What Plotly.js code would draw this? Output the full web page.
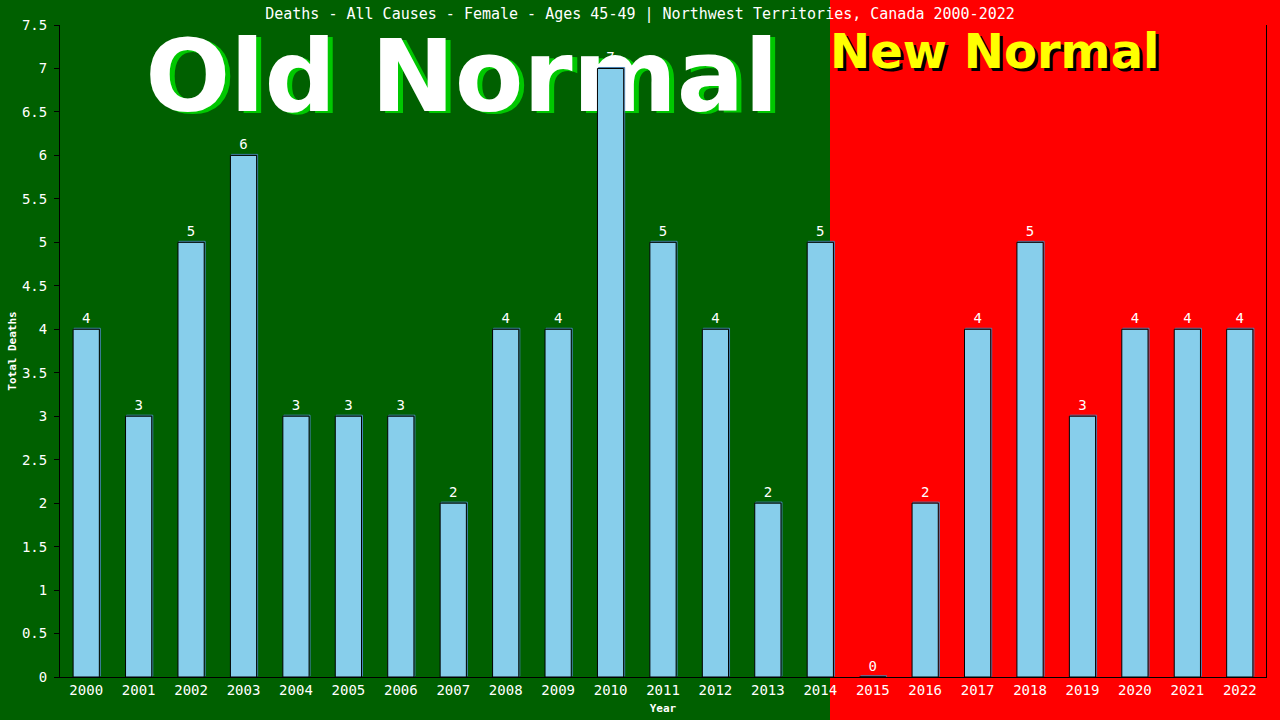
<!DOCTYPE html>
<html>
<head>
<meta charset="utf-8">
<script src="https://cdn.plot.ly/plotly-3.0.1.min.js"></script>
<style>
  html, body { margin: 0; padding: 0; background: #ff0000; }
  #chart { width: 1280px; height: 720px; }
</style>
</head>
<body>
<div id="chart"></div>
<script>
// Female deaths, ages 45-49, Northwest Territories
const years = ['2000','2001','2002','2003','2004','2005','2006','2007','2008','2009','2010',
               '2011','2012','2013','2014','2015','2016','2017','2018','2019','2020','2021','2022'];
const deaths = [4, 3, 5, 6, 3, 3, 3, 2, 4, 4, 7, 5, 4, 2, 5, 0, 2, 4, 5, 3, 4, 4, 4];
const yTickVals = [0, 0.5, 1, 1.5, 2, 2.5, 3, 3.5, 4, 4.5, 5, 5.5, 6, 6.5, 7, 7.5];
const yTickText = ['0','0.5','1','1.5','2','2.5','3','3.5','4','4.5','5','5.5','6','6.5','7','7.5'];

const titleText = 'Deaths - All Causes - Female - Ages 45-49 | Northwest Territories, Canada 2000-2022';
const eraLeft = 'Old Normal';
const eraRight = 'New Normal';

const MONO = '"DejaVu Sans Mono", "Liberation Mono", monospace';
const SANS_BOLD = '"DejaVu Sans", Verdana, sans-serif';

// Era headings live on the base axes (0..1 in both directions) so the bars,
// which sit on the overlaying axes, are painted on top of them.
const eraOld = {
  type: 'scatter', mode: 'text', xaxis: 'x', yaxis: 'y',
  x: [0.3333], y: [0.907], text: [eraLeft],
  textposition: 'middle center',
  textfont: { family: SANS_BOLD, size: 100, color: '#ffffff', weight: 700,
              shadow: '5px 2px 0px #00c800' },
  hoverinfo: 'skip', showlegend: false, cliponaxis: false
};
const eraNew = {
  type: 'scatter', mode: 'text', xaxis: 'x', yaxis: 'y',
  x: [0.6385], y: [0.953], text: [eraRight],
  textposition: 'middle right',
  textfont: { family: SANS_BOLD, size: 48, color: '#ffff00', weight: 700,
              shadow: '3px 3px 0px #000000' },
  hoverinfo: 'skip', showlegend: false, cliponaxis: false
};

// thin steel-blue outline sitting one pixel up and right of each bar
const barShadow = {
  type: 'bar', xaxis: 'x2', yaxis: 'y2',
  x: years, y: deaths, base: 0.0115,
  width: 0.5, offset: -0.231,
  marker: { color: 'rgba(0,0,0,0)', line: { color: '#4682b4', width: 1 } },
  hoverinfo: 'skip', showlegend: false
};

const bars = {
  type: 'bar', xaxis: 'x2', yaxis: 'y2',
  x: years, y: deaths,
  width: 0.5, offset: -0.25,
  marker: { color: '#87ceeb', line: { color: '#000000', width: 1 } },
  text: deaths.map(String),
  textposition: 'outside',
  textfont: { family: MONO, size: 14, color: '#ffffff' },
  cliponaxis: false,
  hoverinfo: 'skip', showlegend: false
};

const layout = {
  width: 1280, height: 720,
  margin: { l: 60, r: 14, t: 25, b: 43 },
  paper_bgcolor: '#ff0000',
  plot_bgcolor: 'rgba(0,0,0,0)',
  showlegend: false,
  barmode: 'overlay',
  title: {
    text: titleText,
    font: { family: MONO, size: 15, color: '#ffffff' },
    x: 0.5, xanchor: 'center', y: 0.981, yanchor: 'middle'
  },
  xaxis: { range: [0, 1], visible: false, fixedrange: true },
  yaxis: { range: [0, 1], visible: false, fixedrange: true },
  xaxis2: {
    overlaying: 'x', type: 'category', range: [-0.5, 22.5],
    showline: true, linecolor: '#000000', linewidth: 1,
    ticks: '', showgrid: false, zeroline: false,
    tickfont: { family: MONO, size: 14, color: '#ffffff' },
    title: { text: 'Year', font: { family: MONO, size: 11, color: '#ffffff', weight: 700 }, standoff: 7 }
  },
  yaxis2: {
    overlaying: 'y', range: [0, 7.5],
    tickvals: yTickVals, ticktext: yTickText,
    showline: true, mirror: true, linecolor: '#000000', linewidth: 1,
    ticks: 'outside', ticklen: 5, tickcolor: '#000000',
    ticklabelstandoff: 4,
    showgrid: false, zeroline: false,
    tickfont: { family: MONO, size: 14, color: '#ffffff' },
    title: { text: 'Total Deaths', font: { family: MONO, size: 11, color: '#ffffff', weight: 700 }, standoff: 3 }
  },
  shapes: [
    // green "old normal" half of the page
    { type: 'rect', xref: 'paper', yref: 'paper', layer: 'below',
      x0: -0.06, x1: 0.63847, y0: -0.1, y1: 1.1,
      fillcolor: '#006000', line: { width: 0 } }
  ]
};

Plotly.newPlot('chart', [eraOld, eraNew, barShadow, bars], layout, { staticPlot: true, displayModeBar: false });
</script>
</body>
</html>
